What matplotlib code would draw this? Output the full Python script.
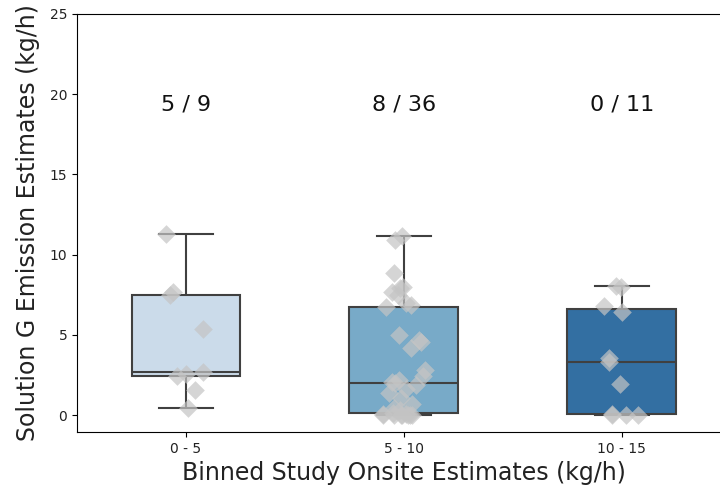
import numpy as np
import pandas as pd
import matplotlib
matplotlib.use("Agg")
import matplotlib.pyplot as plt
import seaborn as sns

# bins and the per-bin solution estimates (kg/h)
bins = ["0 - 5", "5 - 10", "10 - 15"]
est_0_5 = [0.42, 1.55, 2.43, 2.55, 2.70, 5.35, 7.48, 7.65, 11.3]
est_5_10 = [0.0, 0.0, 0.0, 0.0, 0.01, 0.02, 0.03, 0.05, 0.10, 0.13,
            0.30, 0.45, 0.70, 1.06, 1.37, 1.60, 1.87, 1.98, 2.05,
            2.18, 2.45, 2.80, 4.20, 4.55, 4.70, 5.00, 6.72,
            6.85, 7.00, 7.50, 7.70, 7.90, 8.00, 8.85, 10.9, 11.16]
est_10_15 = [0.0, 0.0, 0.02, 0.06, 1.95, 3.28, 3.55, 6.40, 6.80, 7.95, 8.06]
counts = ["5 / 9", "8 / 36", "0 / 11"]

df = pd.DataFrame({
    "bin": [bins[0]] * len(est_0_5) + [bins[1]] * len(est_5_10) + [bins[2]] * len(est_10_15),
    "est": est_0_5 + est_5_10 + est_10_15,
})

np.random.seed(3)

fig = plt.figure(figsize=(7.2, 4.92), dpi=100)
ax = fig.add_axes([0.107, 0.122, 0.908, 0.85])

sns.boxplot(data=df, x="bin", y="est", hue="bin", palette="Blues", width=0.5,
            showfliers=False, legend=False, linewidth=1.5, ax=ax)
sns.stripplot(data=df, x="bin", y="est", color="#c4c4c4", alpha=0.7,
              marker="D", size=9.5, jitter=True, ax=ax)

for i, txt in enumerate(counts):
    ax.text(i, 19, txt, ha="center", va="baseline", fontsize=16, color="#111111")

ax.set_xlim(-0.5, 2.5)
ax.set_ylim(-1.05, 25)
ax.set_yticks([0, 5, 10, 15, 20, 25])
ax.tick_params(labelcolor="#222222")
ax.set_xlabel("Binned Study Onsite Estimates (kg/h)", fontsize=17, color="#222222")
ax.set_ylabel("Solution G Emission Estimates (kg/h)", fontsize=17, color="#222222",
              labelpad=7)

fig.savefig("out.png", dpi=100)
